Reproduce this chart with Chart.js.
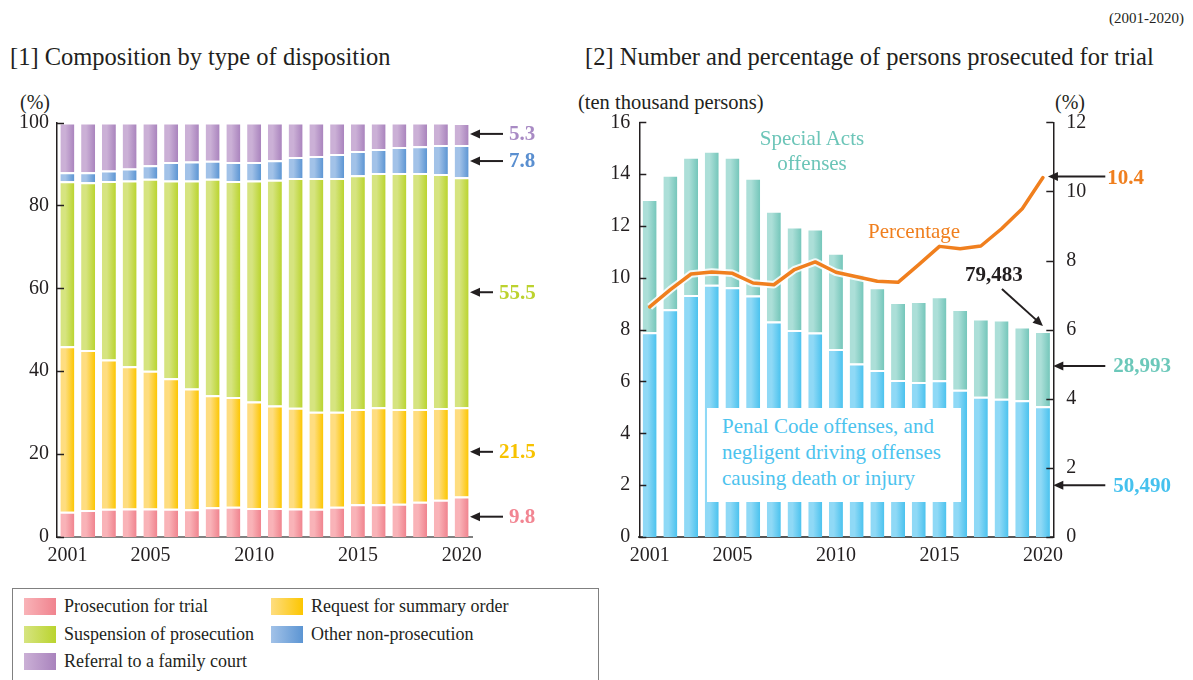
<!DOCTYPE html>
<html>
<head>
<meta charset="utf-8">
<script src="https://cdn.jsdelivr.net/npm/chart.js@4"></script>
<style>
  body { margin: 0; background: #fff; font-family: "Liberation Serif", serif; color: #231f20; width: 1193px; height: 680px; overflow: hidden; position: relative; }
  .t { position: absolute; white-space: nowrap; line-height: 1; }
  .wrap { position: absolute; }
  #legend { position: absolute; left: 12px; top: 588px; width: 587px; height: 110px; border: 1px solid #808080; box-sizing: border-box; }
  .li { position: absolute; font-size: 18px; white-space: nowrap; line-height: 1; }
  .sw { display: inline-block; width: 32px; height: 17px; vertical-align: -3px; margin-right: 8px; }
  #penalBox { position: absolute; left: 707px; top: 408px; width: 254px; height: 94px; background: #fff; color: #4cc3ee; font-size: 21px; line-height: 26px; padding: 5px 0 0 15px; box-sizing: border-box; white-space: nowrap; }
</style>
</head>
<body>
<div class="t" style="left:1109px; top:11px; font-size:15px;">(2001-2020)</div>
<div class="t" style="left:10px; top:45px; font-size:24.5px;">[1] Composition by type of disposition</div>
<div class="t" style="left:585px; top:45px; font-size:24.5px;">[2] Number and percentage of persons prosecuted for trial</div>
<div class="t" style="left:20px; top:92px; font-size:20px;">(%)</div>
<div class="t" style="left:578px; top:92px; font-size:20.5px;">(ten thousand persons)</div>
<div class="t" style="left:1055px; top:92px; font-size:20px;">(%)</div>

<div class="wrap" style="left:0; top:80px;"><canvas id="left" width="560" height="500"></canvas></div>
<div class="wrap" style="left:570px; top:80px;"><canvas id="right" width="623" height="500"></canvas></div>

<div class="t" style="left:752px; top:126px; font-size:21px; color:#6cc5b8; text-align:center; width:120px; line-height:25px;">Special Acts<br>offenses</div>
<div class="t" style="left:868px; top:221px; font-size:21px; color:#f07f1e;">Percentage</div>
<div id="penalBox">Penal Code offenses, and<br>negligent driving offenses<br>causing death or injury</div>

<div id="legend">
  <div class="li" style="left:11px; top:8px;"><span class="sw" style="background:linear-gradient(to right,#f9b3b8,#f0838e)"></span>Prosecution for trial</div>
  <div class="li" style="left:258px; top:8px;"><span class="sw" style="background:linear-gradient(to right,#fedd80,#fcc600)"></span>Request for summary order</div>
  <div class="li" style="left:11px; top:36px;"><span class="sw" style="background:linear-gradient(to right,#d6e480,#bad42e)"></span>Suspension of prosecution</div>
  <div class="li" style="left:258px; top:36px;"><span class="sw" style="background:linear-gradient(to right,#a2c2e8,#5c95d3)"></span>Other non-prosecution</div>
  <div class="li" style="left:11px; top:63px;"><span class="sw" style="background:linear-gradient(to right,#cbb0d6,#a983bd)"></span>Referral to a family court</div>
</div>

<script>
// ---- data ----
const years = ['2001','2002','2003','2004','2005','2006','2007','2008','2009','2010',
               '2011','2012','2013','2014','2015','2016','2017','2018','2019','2020'];
const shownYears = ['2001','2005','2010','2015','2020'];

// [1] composition (%)
const trial      = [6.1, 6.5, 6.8, 6.9, 6.9, 6.8, 6.7, 7.2, 7.3, 7.0, 7.0, 6.9, 6.8, 7.3, 7.9, 7.9, 8.0, 8.5, 9.0, 9.8];
const summary    = [39.9, 38.6, 36.0, 34.3, 33.2, 31.5, 29.1, 27.0, 26.5, 25.7, 24.7, 24.3, 23.4, 22.9, 23.0, 23.4, 22.9, 22.4, 22.1, 21.5];
const suspension = [39.8, 40.5, 43.1, 44.8, 46.3, 47.7, 50.2, 52.2, 52.1, 53.3, 54.5, 55.4, 56.4, 56.4, 56.4, 56.5, 56.9, 56.9, 56.5, 55.5];
const otherNon   = [2.2, 2.4, 2.5, 2.9, 3.3, 4.5, 4.6, 4.4, 4.6, 4.5, 4.7, 5.1, 5.3, 5.8, 5.8, 5.8, 6.3, 6.5, 7.0, 7.8];
const family     = [12.0, 12.0, 11.6, 11.1, 10.3, 9.5, 9.4, 9.2, 9.5, 9.5, 9.1, 8.3, 8.1, 7.6, 6.9, 6.4, 5.9, 5.7, 5.4, 5.3];
const leftCallouts = ['9.8', '21.5', '55.5', '7.8', '5.3'];

// [2] persons prosecuted for trial (ten thousand) and percentage
const penal   = [7.90, 8.79, 9.34, 9.73, 9.64, 9.32, 8.31, 7.99, 7.89, 7.25, 6.69, 6.44, 6.06, 5.98, 6.05, 5.68, 5.41, 5.33, 5.28, 5.049];
const special = [5.14, 5.19, 5.33, 5.17, 5.03, 4.54, 4.28, 3.99, 4.01, 3.72, 3.51, 3.20, 3.01, 3.13, 3.24, 3.12, 3.02, 3.06, 2.84, 2.8993];
const pct     = [6.66, 7.16, 7.61, 7.67, 7.63, 7.35, 7.30, 7.74, 7.96, 7.66, 7.53, 7.40, 7.37, 7.88, 8.41, 8.34, 8.42, 8.92, 9.50, 10.4];
const totalLabel = '79,483', specialLabel = '28,993', penalLabel = '50,490', pctLabel = '10.4';

const BAR_PCT = 0.675;
const INK = '#231f20';
Chart.defaults.font.family = '"Liberation Serif", serif';
Chart.defaults.font.size = 20;
Chart.defaults.color = INK;

// horizontal gradient per bar (lighter left side)
grad = (c1, c2) => (ctx) => {
  const chart = ctx.chart, xs = chart.scales.x;
  if (ctx.type !== 'data' || !xs) return c2;
  const x = xs.getPixelForValue(ctx.dataIndex);
  const hw = xs.width / years.length * BAR_PCT / 2;
  if (!isFinite(x) || !isFinite(hw) || hw <= 0) return c2;
  const g = chart.ctx.createLinearGradient(x - hw, 0, x + hw, 0);
  g.addColorStop(0, c1);
  g.addColorStop(0.35, c1);
  g.addColorStop(1, c2);
  return g;
};

arrow = (c, x1, y1, x2, y2) => {
  const ang = Math.atan2(y2 - y1, x2 - x1), L = 10, W = 4.5;
  c.save();
  c.strokeStyle = INK; c.fillStyle = INK; c.lineWidth = 2;
  c.beginPath();
  c.moveTo(x1, y1);
  c.lineTo(x2 - Math.cos(ang) * L * 0.8, y2 - Math.sin(ang) * L * 0.8);
  c.stroke();
  c.beginPath();
  c.moveTo(x2, y2);
  c.lineTo(x2 - Math.cos(ang) * L + Math.sin(ang) * W, y2 - Math.sin(ang) * L - Math.cos(ang) * W);
  c.lineTo(x2 - Math.cos(ang) * L - Math.sin(ang) * W, y2 - Math.sin(ang) * L + Math.cos(ang) * W);
  c.closePath();
  c.fill();
  c.restore();
};

label = (c, text, x, y, color) => {
  c.save();
  c.font = 'bold 21px "Liberation Serif"';
  c.fillStyle = color;
  c.textBaseline = 'middle';
  c.fillText(text, x, y + 1);
  c.restore();
};

// short tick marks pointing into the plot
const innerTicks = {
  id: 'innerTicks',
  afterDraw(chart, args, opts) {
    const c = chart.ctx;
    c.save();
    c.strokeStyle = INK; c.lineWidth = 1.5;
    opts.axes.forEach((id) => {
      const s = chart.scales[id];
      const left = s.position === 'left';
      const x0 = left ? s.right : s.left;
      s.ticks.forEach((t, i) => {
        const y = Math.round(s.getPixelForTick(i)) + 0.5;
        c.beginPath(); c.moveTo(x0, y); c.lineTo(x0 + (left ? 7 : -7), y); c.stroke();
      });
    });
    c.restore();
  }
};

const xTicks = {
  autoSkip: false, maxRotation: 0, padding: 7,
  callback: (v, i) => shownYears.includes(years[i]) ? years[i] : ''
};

// ---------- [1] ----------
const leftColors = [
  ['#f9b3b8', '#f0838e', '#f28592'],
  ['#fedd80', '#fcc600', '#f7c200'],
  ['#d6e480', '#bad42e', '#bcd22e'],
  ['#a2c2e8', '#5c95d3', '#5a8fd0'],
  ['#cbb0d6', '#a983bd', '#a88ac4']
];
const leftSeries = [trial, summary, suspension, otherNon, family];
const leftNames = ['Prosecution for trial', 'Request for summary order', 'Suspension of prosecution',
                   'Other non-prosecution', 'Referral to a family court'];

const leftCallout = {
  id: 'leftCallout',
  afterDatasetsDraw(chart) {
    const c = chart.ctx, y = chart.scales.y, a = chart.chartArea;
    const last = years.length - 1;
    const lens = [33, 23, 23, 33, 33];
    let base = 0;
    leftSeries.forEach((arr, k) => {
      const mid = base + arr[last] / 2;
      base += arr[last];
      const py = y.getPixelForValue(mid);
      arrow(c, a.right - 2 + lens[k], py, a.right - 2, py);
      label(c, leftCallouts[k], a.right + lens[k] + 4, py, leftColors[k][2]);
    });
  }
};

new Chart(document.getElementById('left'), {
  type: 'bar',
  data: {
    labels: years,
    datasets: leftSeries.map((arr, k) => ({
      label: leftNames[k],
      data: arr,
      backgroundColor: grad(leftColors[k][0], leftColors[k][1]),
      borderColor: '#ffffff',
      borderWidth: { top: 2, left: 0, right: 0, bottom: 0 },
      borderSkipped: false,
      categoryPercentage: 1,
      barPercentage: BAR_PCT
    }))
  },
  options: {
    responsive: false, animation: false, devicePixelRatio: 1,
    layout: { padding: { left: 0, top: 42.5, right: 88, bottom: 0 } },
    plugins: { legend: { display: false }, tooltip: { enabled: false }, innerTicks: { axes: ['y'] } },
    scales: {
      x: {
        stacked: true,
        grid: { display: false, drawTicks: false },
        border: { color: '#808080', width: 2 },
        ticks: xTicks,
        afterFit: (s) => { s.height = 43; }
      },
      y: {
        stacked: true, min: 0, max: 100,
        grid: { display: false, drawTicks: false },
        border: { color: INK, width: 1.5 },
        ticks: { stepSize: 20, padding: 8 },
        afterFit: (s) => { s.width = 57; }
      }
    }
  },
  plugins: [innerTicks, leftCallout]
});

// ---------- [2] ----------
const rightCallout = {
  id: 'rightCallout',
  afterDraw(chart) {
    const c = chart.ctx, y = chart.scales.y, y1 = chart.scales.y1, x = chart.scales.x, a = chart.chartArea;
    const last = years.length - 1;
    const px = x.getPixelForValue(last);
    const tail = a.right + 52;
    // percentage
    const pp = y1.getPixelForValue(pct[last]);
    arrow(c, tail, pp - 1, px + 5, pp - 1);
    label(c, pctLabel, tail + 2, pp, '#f07f1e');
    // special acts
    const ps = y.getPixelForValue(6.6);
    arrow(c, tail, ps, a.right, ps);
    label(c, specialLabel, tail + 8, ps, '#6cc8ba');
    // penal code
    const pn = y.getPixelForValue(2.0);
    arrow(c, tail, pn, a.right, pn);
    label(c, penalLabel, tail + 8, pn, '#45c1ee');
    // total
    const pt = y.getPixelForValue(penal[last] + special[last]);
    arrow(c, px - 41, pt - 42, px, pt - 5);
    label(c, totalLabel, px - 78, pt - 56, INK);
  }
};

new Chart(document.getElementById('right'), {
  type: 'bar',
  data: {
    labels: years,
    datasets: [
      {
        label: 'Percentage', type: 'line', yAxisID: 'y1', data: pct, order: 0,
        borderColor: '#f07f1e', borderWidth: 3.5, pointRadius: 0, tension: 0,
        borderJoinStyle: 'round', borderCapStyle: 'round', fill: false
      },
      {
        label: 'halo', type: 'line', yAxisID: 'y1', data: pct, order: 1,
        borderColor: 'rgba(255,255,255,0.85)', borderWidth: 7.5, pointRadius: 0, tension: 0,
        borderJoinStyle: 'round', fill: false
      },
      {
        label: 'Penal Code offenses, and negligent driving offenses causing death or injury',
        data: penal, order: 2, yAxisID: 'y',
        backgroundColor: grad('#8fd9f6', '#4ac2ee'),
        borderColor: '#ffffff', borderWidth: { top: 2, left: 0, right: 0, bottom: 0 }, borderSkipped: false,
        categoryPercentage: 1, barPercentage: BAR_PCT
      },
      {
        label: 'Special Acts offenses',
        data: special, order: 2, yAxisID: 'y',
        backgroundColor: grad('#acdfd8', '#74c6ba'),
        borderColor: '#ffffff', borderWidth: { top: 2, left: 0, right: 0, bottom: 0 }, borderSkipped: false,
        categoryPercentage: 1, barPercentage: BAR_PCT
      }
    ]
  },
  options: {
    responsive: false, animation: false, devicePixelRatio: 1,
    layout: { padding: { left: 0, top: 42.3, right: 99.7, bottom: 0 } },
    plugins: { legend: { display: false }, tooltip: { enabled: false }, innerTicks: { axes: ['y', 'y1'] } },
    scales: {
      x: {
        stacked: true,
        grid: { display: false, drawTicks: false },
        border: { color: '#555555', width: 2 },
        ticks: xTicks,
        afterFit: (s) => { s.height = 43; }
      },
      y: {
        stacked: true, min: 0, max: 16, position: 'left',
        grid: { display: false, drawTicks: false },
        border: { color: INK, width: 1.5 },
        ticks: { stepSize: 2, padding: 9 },
        afterFit: (s) => { s.width = 69.3; }
      },
      y1: {
        stacked: false, min: 0, max: 12, position: 'right',
        grid: { display: false, drawTicks: false },
        border: { color: INK, width: 1.5 },
        ticks: { stepSize: 2, padding: 13 },
        afterFit: (s) => { s.width = 40; }
      }
    }
  },
  plugins: [innerTicks, rightCallout]
});
</script>
</body>
</html>
